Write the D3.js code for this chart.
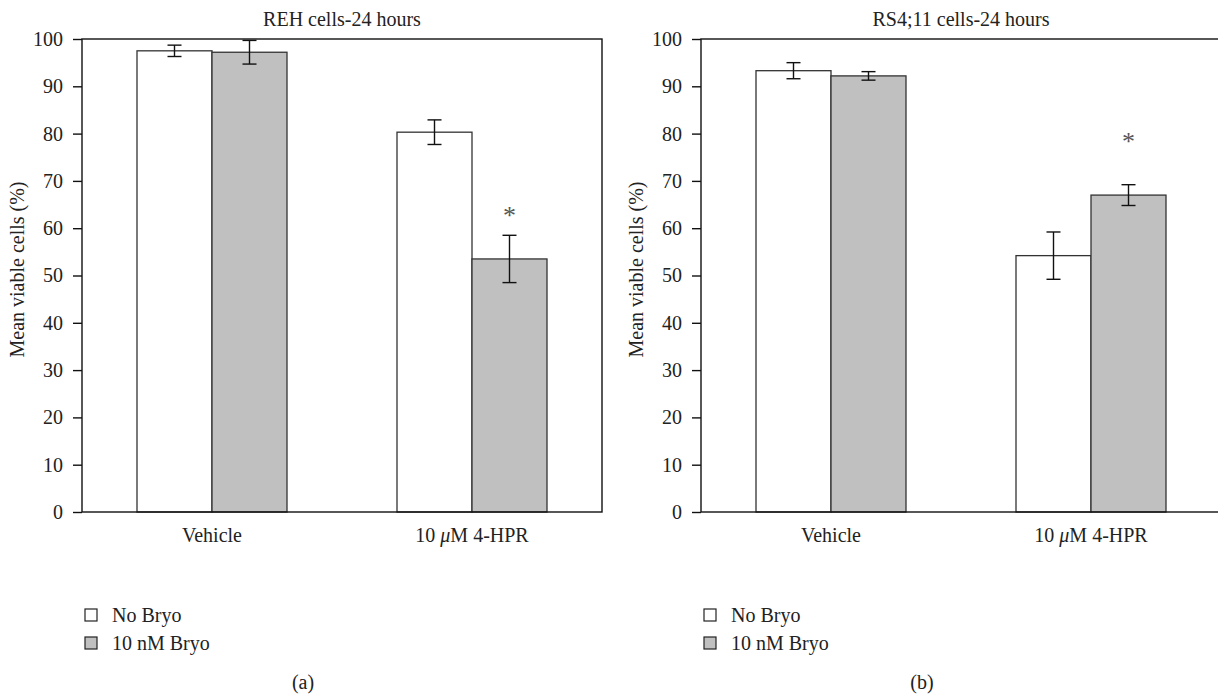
<!DOCTYPE html>
<html>
<head>
<meta charset="utf-8">
<script src="https://cdn.jsdelivr.net/npm/d3@7"></script>
<style>
  body { margin: 0; background: #fff; }
  svg { display: block; font-family: "Liberation Serif", "DejaVu Serif", serif; }
</style>
</head>
<body>
<svg id="chart" width="1218" height="694"></svg>
<script>
// data
const groups = ["Vehicle", "10 \u03bcM 4-HPR"];
const series = ["No Bryo", "10 nM Bryo"];
const yTicks = [0, 10, 20, 30, 40, 50, 60, 70, 80, 90, 100];

// panel (a) REH
const rehMeans = [[97.5, 97.2], [80.3, 53.5]];
const rehErr = [[1.2, 2.5], [2.6, 5.0]];
const rehStar = [null, 63.5]; // asterisk over 10 nM Bryo, 4-HPR

// panel (b) RS4;11
const rsMeans = [[93.3, 92.2], [54.2, 67.0]];
const rsErr = [[1.7, 0.9], [5.0, 2.2]];
const rsStar = [null, 79];

const fills = ["#ffffff", "#c0c0c0"];
const fs = 20; // text size

const svg = d3.select("#chart");

function panel(opts) {
  const left = opts.x, top = 39, w = 520, h = 473;
  const g = svg.append("g");

  const y = d3.scaleLinear().domain([0, 100]).range([top + h, top]);
  const x0 = d3.scaleBand().domain(groups).range([left, left + w]);
  const x1 = d3.scaleBand().domain(series).range([-75, 75]);

  // bars
  groups.forEach((grp, i) => {
    const cx = x0(grp) + x0.bandwidth() / 2;
    series.forEach((s, j) => {
      const v = opts.means[i][j];
      g.append("rect")
        .attr("x", cx + x1(s))
        .attr("y", y(v))
        .attr("width", x1.bandwidth())
        .attr("height", y(0) - y(v))
        .attr("fill", fills[j])
        .attr("stroke", "#333")
        .attr("stroke-width", 1.3);
    });
  });

  // error bars
  groups.forEach((grp, i) => {
    const cx = x0(grp) + x0.bandwidth() / 2;
    series.forEach((s, j) => {
      const v = opts.means[i][j], e = opts.err[i][j];
      const ex = cx + x1(s) + x1.bandwidth() / 2;
      const eg = g.append("g").attr("stroke", "#111").attr("stroke-width", 1.4);
      eg.append("line").attr("x1", ex).attr("x2", ex).attr("y1", y(v + e)).attr("y2", y(v - e));
      eg.append("line").attr("x1", ex - 7).attr("x2", ex + 7).attr("y1", y(v + e)).attr("y2", y(v + e));
      eg.append("line").attr("x1", ex - 7).attr("x2", ex + 7).attr("y1", y(v - e)).attr("y2", y(v - e));
    });
    if (opts.star[i] != null) {
      const sx = cx + x1(series[1]) + x1.bandwidth() / 2;
      g.append("text")
        .attr("x", sx).attr("y", y(opts.star[i]) + 12)
        .attr("text-anchor", "middle")
        .attr("font-size", 26)
        .attr("fill", "#555")
        .text("*");
    }
  });

  // frame
  g.append("rect")
    .attr("x", left).attr("y", top).attr("width", w).attr("height", h)
    .attr("fill", "none").attr("stroke", "#111").attr("stroke-width", 1.4);

  // y axis
  const ya = g.append("g")
    .attr("transform", `translate(${left},0)`)
    .call(d3.axisLeft(y).tickValues(yTicks).tickSize(9).tickPadding(10));
  ya.select(".domain").remove();
  ya.selectAll("line").attr("stroke", "#111").attr("stroke-width", 1.4);
  ya.selectAll("text").attr("font-family", "Liberation Serif").attr("font-size", fs).attr("fill", "#222");

  // x labels
  groups.forEach(grp => {
    g.append("text")
      .attr("x", x0(grp) + x0.bandwidth() / 2)
      .attr("y", 542)
      .attr("text-anchor", "middle")
      .attr("font-size", fs).attr("fill", "#222")
      .html(grp === groups[1] ? "10 <tspan font-style='italic'>\u03bc</tspan>M 4-HPR" : grp);
  });

  // title
  g.append("text")
    .attr("x", left + w / 2).attr("y", 26)
    .attr("text-anchor", "middle")
    .attr("font-size", fs).attr("fill", "#222")
    .text(opts.title);

  // y label
  g.append("text")
    .attr("transform", `translate(${left - 58},${top + h / 2 - 6}) rotate(-90)`)
    .attr("text-anchor", "middle")
    .attr("font-size", fs).attr("fill", "#222")
    .text("Mean viable cells (%)");

  // legend
  series.forEach((s, j) => {
    const ly = 609 + j * 28;
    g.append("rect")
      .attr("x", left + 3).attr("y", ly).attr("width", 12).attr("height", 12)
      .attr("fill", fills[j]).attr("stroke", "#222").attr("stroke-width", 1.2);
    g.append("text")
      .attr("x", left + 30).attr("y", ly + 13)
      .attr("font-size", fs).attr("fill", "#222")
      .text(s);
  });

  // caption
  g.append("text")
    .attr("x", left + 221).attr("y", 689)
    .attr("text-anchor", "middle")
    .attr("font-size", fs).attr("fill", "#222")
    .text(opts.caption);
}

panel({ x: 82, title: "REH cells-24 hours", means: rehMeans, err: rehErr, star: rehStar, caption: "(a)" });
panel({ x: 701, title: "RS4;11 cells-24 hours", means: rsMeans, err: rsErr, star: rsStar, caption: "(b)" });
</script>
</body>
</html>
